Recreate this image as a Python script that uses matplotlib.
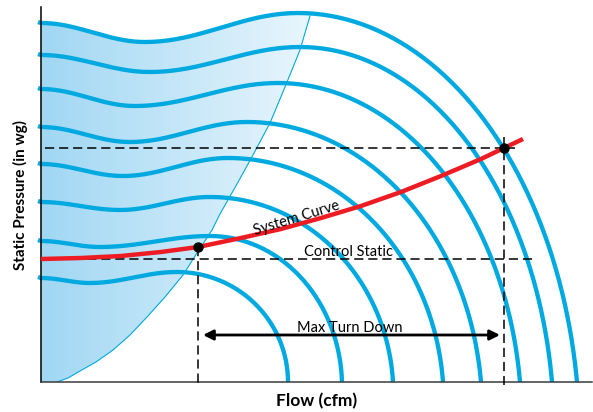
import numpy as np
import matplotlib
matplotlib.use("Agg")
import matplotlib.pyplot as plt
from matplotlib.patches import PathPatch
from matplotlib.path import Path
from matplotlib.colors import LinearSegmentedColormap

# fan curves, top (full speed) to bottom (arbitrary flow / pressure units)
shutoff = [359, 327, 293, 255, 218, 180, 141, 104]
dip_flow = [104, 109, 94, 89, 82, 79, 59, 49]
dip_press = [340, 310, 276, 240, 206, 172, 135, 99]
peak_flow = [257, 259, 237, 206, 187, 169, 169, 136]
peak_press = [369, 335, 299, 260, 224, 185, 146, 110]
free_flow = [536, 511, 479, 440, 402, 352, 301, 247]
arc_drop = [60, 50, 40, 30, 20, 12, 5, 0]

# surge line
surge_flow = [16, 27, 39, 55, 72, 89, 106, 124, 142, 156, 171, 179, 196, 212, 229, 244, 259, 269]
surge_press = [0, 4, 11, 20, 32, 47, 65, 85, 107, 129, 152, 168, 198, 227, 259, 295, 332, 366]

# system curve
sys_flow = [0, 40, 80, 120, 157, 200, 240, 280, 320, 360, 400, 440, 463, 482]
sys_press = [123, 124, 126, 130, 135, 144, 153, 164, 176, 190, 206, 223, 234, 243]

op_flow = [157, 463]
op_press = [135, 234]
control_static = 123
turn_down = [162, 459]
turn_down_press = 47

BLUE = '#00a9e0'
RED = '#ed1c24'
FONT = 'Lato'


def fan_curve(i):
    y0 = shutoff[i]
    xd, yd = dip_flow[i], dip_press[i]
    xp, yp = peak_flow[i], peak_press[i]
    t = np.linspace(0, 1, 40)
    x1 = xd * t
    y1 = yd + (y0 - yd) * (1 + np.cos(np.pi * t)) / 2
    x2 = xd + (xp - xd) * t
    y2 = yd + (yp - yd) * (1 - np.cos(np.pi * t)) / 2
    d = arc_drop[i]
    b = yp + d
    te = np.arccos(d / b)
    a = (free_flow[i] - xp) / np.sin(te)
    th = np.linspace(0, te, 100)
    x3 = xp + a * np.sin(th)
    y3 = -d + b * np.cos(th)
    x = np.concatenate([[-3], x1, x2[1:], x3[1:]])
    y = np.concatenate([[y0 + 1], y1, y2[1:], y3[1:]])
    return x, y


fig = plt.figure(figsize=(5.93, 4.12), dpi=100)
ax = fig.add_axes([41 / 593, 30 / 412, 551 / 593, 375 / 412])

# shaded surge region
cx, cy = fan_curve(0)
keep = (cx >= 0) & (cx <= surge_flow[-1])
px = np.concatenate([[0], cx[keep], surge_flow[::-1], [0]])
py = np.concatenate([[0], cy[keep], surge_press[::-1], [0]])
patch = PathPatch(Path(np.column_stack([px, py])), facecolor='none', edgecolor='none')
ax.add_patch(patch)
cmap = LinearSegmentedColormap.from_list('surge', ['#a0d7f3', '#e9f6fd'])
grad = np.linspace(0, 1, 256).reshape(1, -1)
im = ax.imshow(grad, cmap=cmap, extent=(0, surge_flow[-1], 0, 375), aspect='auto', zorder=0)
im.set_clip_path(patch)

ax.plot(surge_flow, surge_press, color=BLUE, lw=0.8, zorder=1)

for i in range(len(shutoff)):
    x, y = fan_curve(i)
    ax.plot(x, y, color=BLUE, lw=3.1, solid_capstyle='butt', zorder=2, clip_on=False)

# dashed guide lines
dash = dict(color='black', lw=1.1, dashes=(6, 3.2), zorder=3, clip_on=False)
ax.plot([4, 496], [control_static, control_static], **dash)
ax.plot([4, 474], [op_press[1], op_press[1]], **dash)
ax.plot([op_flow[0], op_flow[0]], [op_press[0], -1], **dash)
ax.plot([op_flow[1], op_flow[1]], [op_press[1] + 11, -3], **dash)

ax.plot(sys_flow, sys_press, color=RED, lw=3.2, zorder=4, solid_capstyle='butt',
        solid_joinstyle='round')
ax.scatter(op_flow, op_press, s=42, color='black', zorder=5)

ax.annotate('', xy=(turn_down[0], turn_down_press), xytext=(turn_down[1], turn_down_press),
            arrowprops=dict(arrowstyle='<|-|>,head_length=0.6,head_width=0.3', color='black',
                            lw=2, shrinkA=0, shrinkB=0), zorder=5)
ax.text(309, turn_down_press + 3, 'Max Turn Down', ha='center', va='baseline',
        fontsize=10.5, family=FONT, zorder=6)
ax.text(308, control_static + 3, 'Control Static', ha='center', va='baseline',
        fontsize=10.5, family=FONT, zorder=6)
ax.text(256, 164, 'System Curve', ha='center', va='center', rotation=17,
        fontsize=10.5, family=FONT, zorder=6)

ax.set_xlim(0, 551)
ax.set_ylim(0, 375)
ax.set_xticks([])
ax.set_yticks([])
for s in ['top', 'right']:
    ax.spines[s].set_visible(False)
ax.spines['left'].set_linewidth(1.1)
ax.spines['bottom'].set_linewidth(1.1)
ax.spines['bottom'].set_color('#3a3a3a')
ax.set_xlabel('Flow (cfm)', fontsize=12.5, fontweight='bold', family=FONT, labelpad=8)
ax.set_ylabel('Static Pressure (in wg)', fontsize=11, fontweight='bold', family=FONT, labelpad=9)

fig.savefig('out.png', dpi=100)
